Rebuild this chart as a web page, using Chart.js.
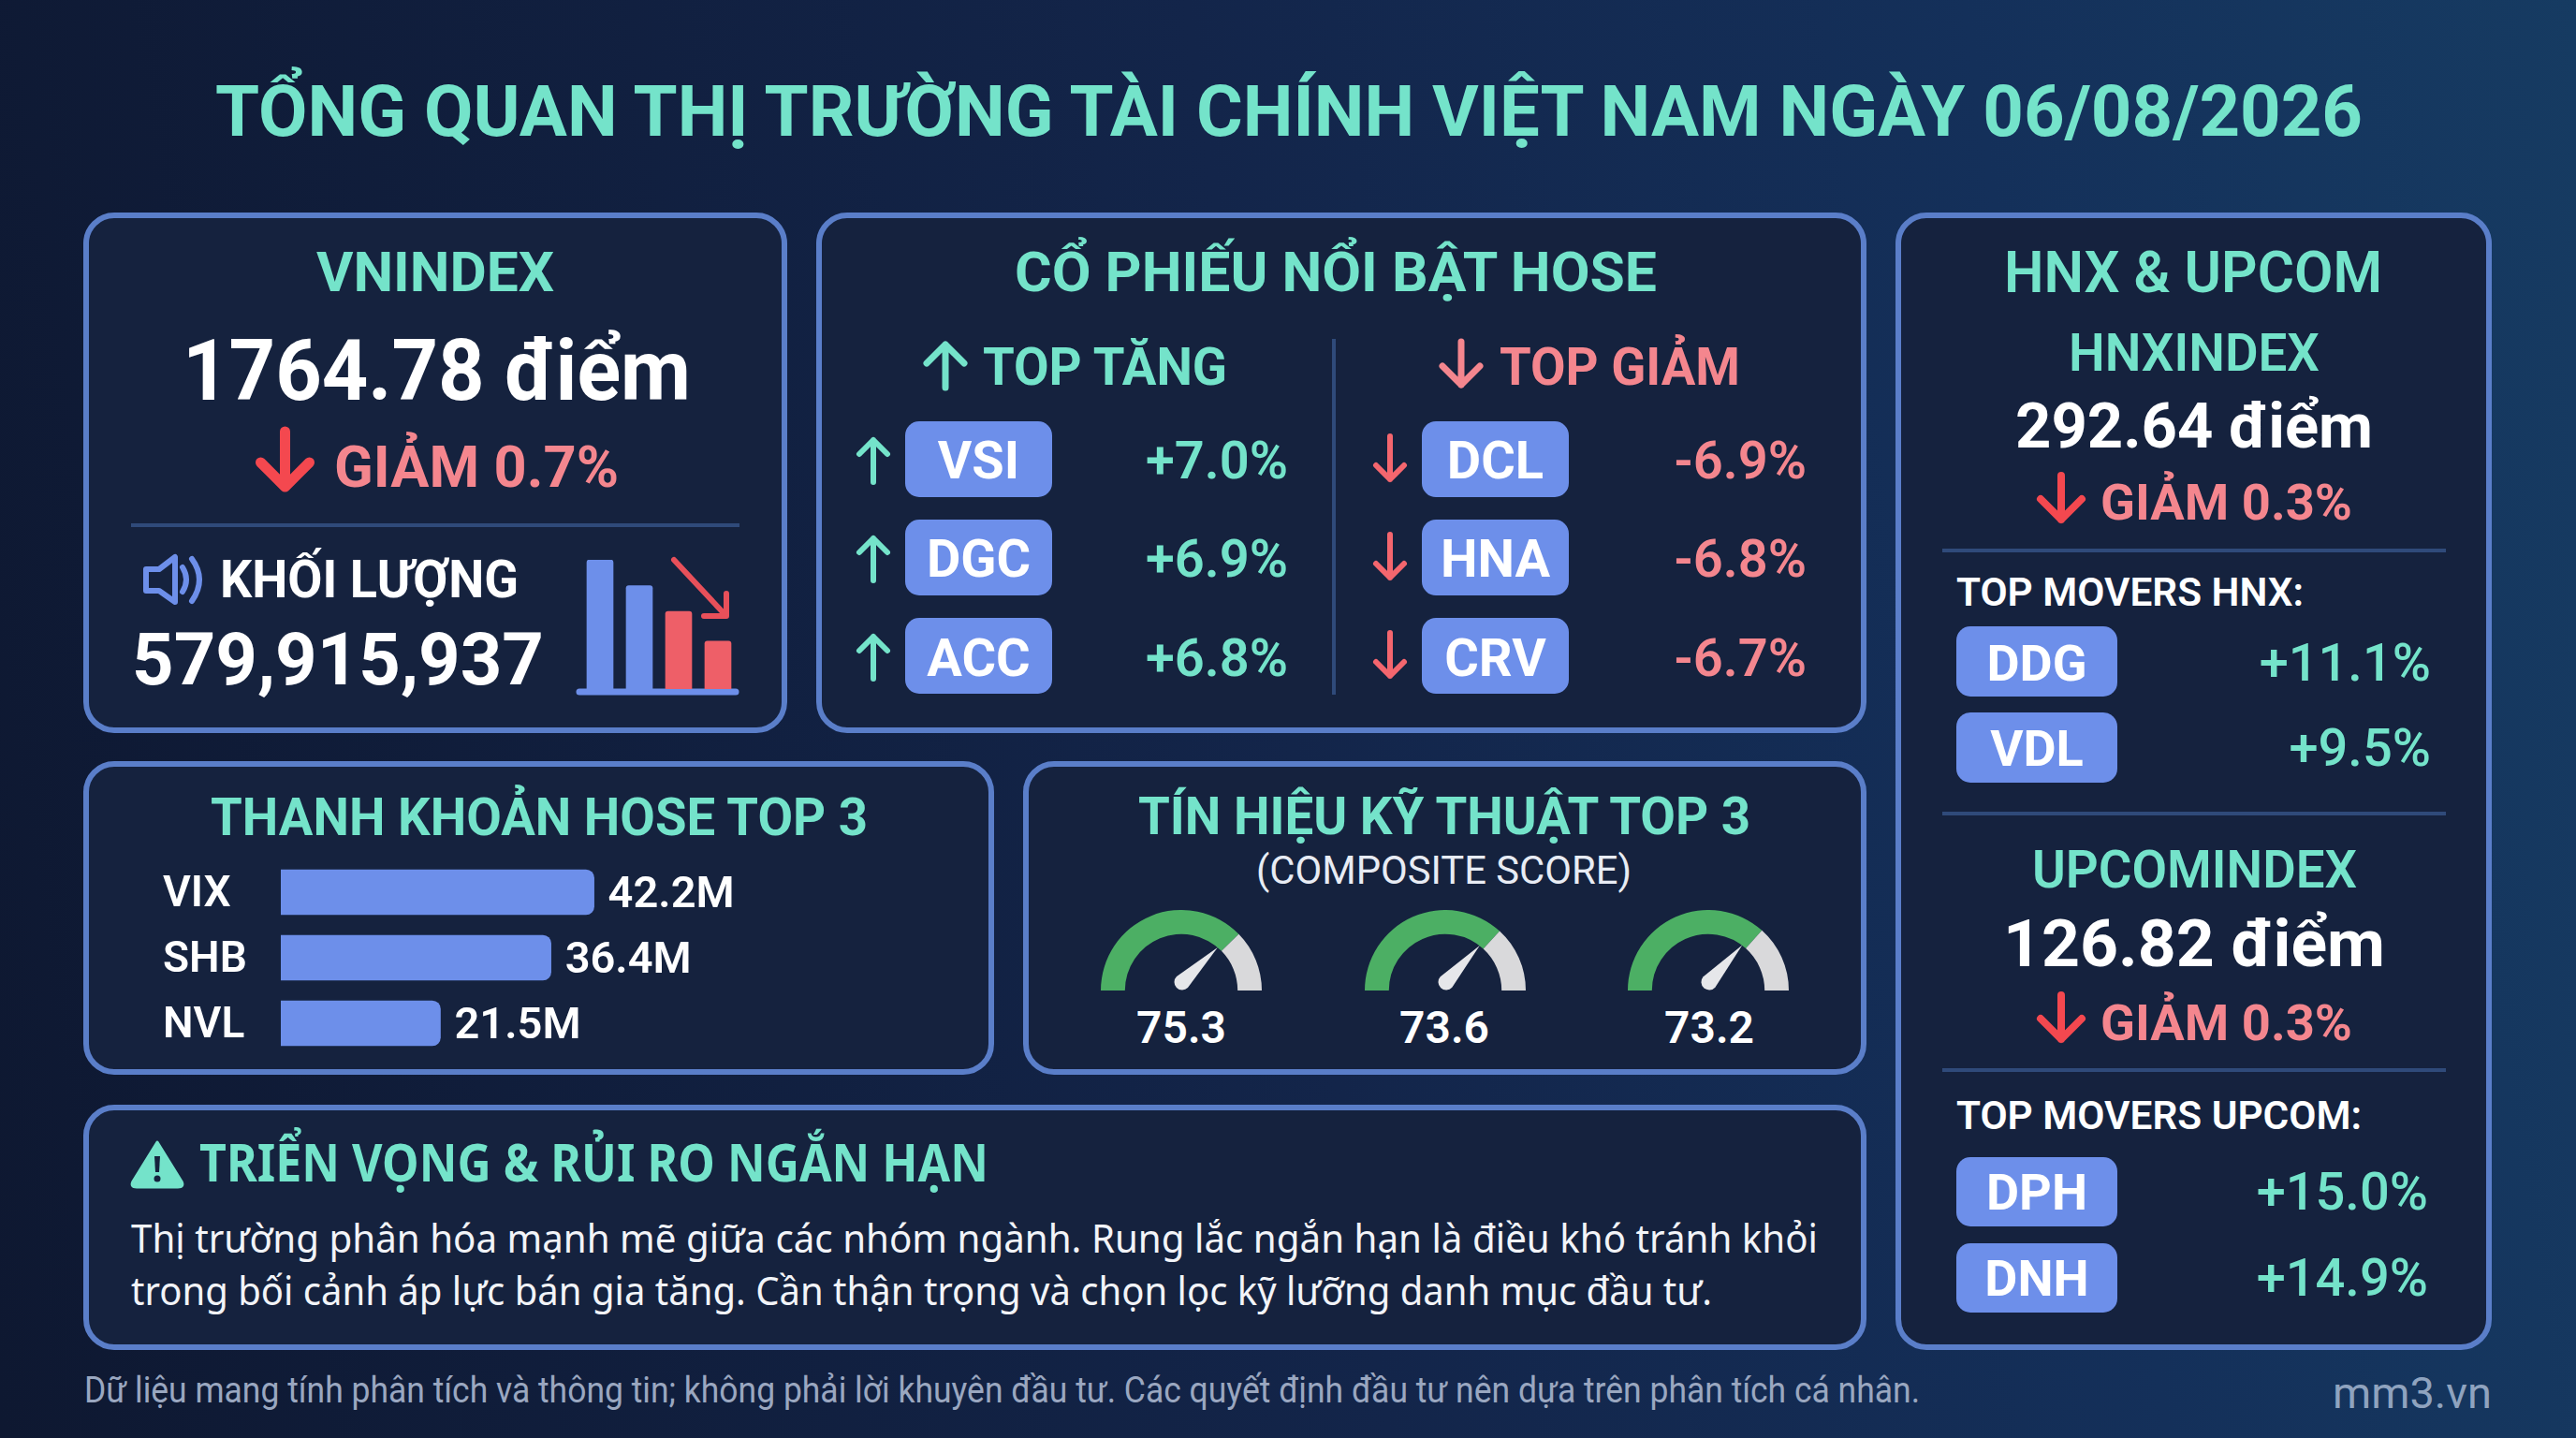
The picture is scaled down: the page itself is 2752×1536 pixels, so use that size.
<!DOCTYPE html>
<html lang="vi">
<head>
<meta charset="utf-8">
<title>Tổng quan thị trường</title>
<script src="https://cdn.jsdelivr.net/npm/chart.js@4/dist/chart.umd.min.js"></script>
<style>
  html, body { margin: 0; padding: 0; }
  body {
    width: 2752px; height: 1536px; overflow: hidden; position: relative;
    background: linear-gradient(82deg, #0e1831 0%, #13254a 50%, #14305a 78%, #163b62 100%);
  }
  svg { position: absolute; left: 0; top: 0; }
  canvas { position: absolute; }
</style>
</head>
<body>
<svg id="board" width="2752" height="1536" xmlns="http://www.w3.org/2000/svg"></svg>
<canvas id="volumeIcon" width="168" height="138" style="left:620px;top:598px"></canvas>
<canvas id="liquidity" width="800" height="210" style="left:174px;top:918px"></canvas>
<canvas id="gauge0" width="172" height="86" style="left:1176px;top:972px"></canvas>
<canvas id="gauge1" width="172" height="86" style="left:1458px;top:972px"></canvas>
<canvas id="gauge2" width="172" height="86" style="left:1739px;top:972px"></canvas>

<script>
// values
const liquidityTickers = ["VIX", "SHB", "NVL"];
const liquidityValues = [42.2, 36.4, 21.5];
const gaugeScores = [75.3, 73.6, 73.2];
const volumeBars = [100, 80, 60, 37];

const hoseGainers = ["VSI", "DGC", "ACC"];
const hoseGainerPct = ["+7.0%", "+6.9%", "+6.8%"];
const hoseLosers = ["DCL", "HNA", "CRV"];
const hoseLoserPct = ["-6.9%", "-6.8%", "-6.7%"];
const hnxMovers = ["DDG", "VDL"];
const hnxMoverPct = ["+11.1%", "+9.5%"];
const upcomMovers = ["DPH", "DNH"];
const upcomMoverPct = ["+15.0%", "+14.9%"];

const TEAL = "#74e3ca", SOFT_RED = "#f4868e", RED = "#f4484f", BLUE = "#6d8fea", LINE = "#2f4a7a";
const BORDER = "#5a7ec9", PANEL = "#15223e", FONT = "Roboto, sans-serif";

Chart.defaults.animation = false;
Chart.defaults.responsive = false;
Chart.defaults.font.family = FONT;

const board = document.getElementById("board");

function add(tag, attrs, text) {
  const el = document.createElementNS("http://www.w3.org/2000/svg", tag);
  for (const k in attrs) el.setAttribute(k, attrs[k]);
  if (text) el.textContent = text;
  board.appendChild(el);
  return el;
}

// w = width measured on the picture, squeezes the glyphs to fit it
function label(str, x, y, size, weight, fill, opts = {}) {
  const attrs = { x, y, fill, "font-size": size, "font-weight": weight, "font-family": opts.family || FONT, "text-anchor": opts.anchor || "start" };
  if (opts.w) { attrs.textLength = opts.w; attrs.lengthAdjust = "spacingAndGlyphs"; }
  add("text", attrs, str);
}

function panel(x0, y0, x1, y1) {
  add("rect", { x: x0 + 3, y: y0 + 3, width: x1 - x0 - 6, height: y1 - y0 - 6, rx: 30, fill: PANEL, stroke: BORDER, "stroke-width": 6 });
}

function rule(x0, y0, x1, y1) {
  add("line", { x1: x0, y1: y0, x2: x1, y2: y1, stroke: LINE, "stroke-width": 4 });
}

function arrow(x, y0, y1, head, color, sw) {
  const dir = y1 > y0 ? -1 : 1;
  add("path", {
    d: `M${x} ${y0}L${x} ${y1}M${x - head} ${y1 + dir * head}L${x} ${y1}L${x + head} ${y1 + dir * head}`,
    fill: "none", stroke: color, "stroke-width": sw, "stroke-linecap": "round", "stroke-linejoin": "round"
  });
}

function badge(x, y, w, h, str, size, base) {
  add("rect", { x, y, width: w, height: h, rx: 15, fill: BLUE });
  label(str, x + w / 2, base, size, 700, "#ffffff", { anchor: "middle" });
}

// header
label("TỔNG QUAN THỊ TRƯỜNG TÀI CHÍNH VIỆT NAM NGÀY 06/08/2026", 230, 145, 76, 700, TEAL, { w: 2294 });

panel(89, 227, 841, 783);
panel(872, 227, 1994, 783);
panel(2025, 227, 2662, 1442);
panel(89, 813, 1062, 1148);
panel(1093, 813, 1994, 1148);
panel(89, 1180, 1994, 1442);

// VNINDEX
label("VNINDEX", 338, 311, 59, 700, TEAL, { w: 254 });
label("1764.78 điểm", 195, 427, 90, 700, "#ffffff", { w: 543 });
arrow(304.5, 461, 520, 26, RED, 11);
label("GIẢM 0.7%", 357, 520, 62, 700, SOFT_RED, { w: 304 });
rule(140, 561, 790, 561);
add("path", { d: "M156 608H170L187 595V643L170 631H156Z", fill: "none", stroke: BLUE, "stroke-width": 6, "stroke-linejoin": "round" });
add("path", { d: "M195 606Q203 619 195 632M205 597Q221 619 205 642", fill: "none", stroke: BLUE, "stroke-width": 6, "stroke-linecap": "round" });
label("KHỐI LƯỢNG", 235, 638, 56, 700, "#ffffff", { w: 319 });
label("579,915,937", 141, 731, 78, 700, "#ffffff", { w: 440 });
add("line", { x1: 619, y1: 739, x2: 786, y2: 739, stroke: BLUE, "stroke-width": 7, "stroke-linecap": "round" });
add("path", { d: "M720 598L775 657M776 634V658H752", fill: "none", stroke: "#e8505a", "stroke-width": 6, "stroke-linecap": "round", "stroke-linejoin": "round" });

// HOSE top movers
label("CỔ PHIẾU NỔI BẬT HOSE", 1084, 311, 59, 700, TEAL, { w: 686 });
arrow(1010, 414, 368, 20, TEAL, 7);
label("TOP TĂNG", 1050, 411, 56, 700, TEAL, { w: 261 });
rule(1425, 362, 1425, 742);
arrow(1561, 365, 411, 20, SOFT_RED, 7);
label("TOP GIẢM", 1602, 411, 56, 700, SOFT_RED, { w: 257 });

const hoseRowTop = [450, 555, 660];
const hoseRowBase = [511, 616, 722];
hoseGainers.forEach((name, i) => {
  const y = hoseRowTop[i];
  arrow(933, y + 65, y + 20, 15, TEAL, 6);
  badge(967, y, 157, 81, name, 56, hoseRowBase[i]);
  label(hoseGainerPct[i], 1376, hoseRowBase[i], 56, 600, TEAL, { anchor: "end" });
});
hoseLosers.forEach((name, i) => {
  const y = hoseRowTop[i];
  arrow(1485, y + 16, y + 62, 15, "#f4666e", 6);
  badge(1519, y, 157, 81, name, 56, hoseRowBase[i]);
  label(hoseLoserPct[i], 1930, hoseRowBase[i], 56, 600, SOFT_RED, { anchor: "end" });
});

// HNX & UPCOM
label("HNX & UPCOM", 2141, 312, 62, 600, TEAL, { w: 404 });
label("HNXINDEX", 2210, 396, 55, 600, TEAL, { w: 268 });
label("292.64 điểm", 2153, 478, 67, 700, "#ffffff", { w: 382 });
arrow(2202, 508, 555, 22, RED, 8);
label("GIẢM 0.3%", 2244, 555, 54, 700, SOFT_RED, { w: 269 });
rule(2075, 588, 2613, 588);
label("TOP MOVERS HNX:", 2090, 647, 42, 600, "#ffffff", { w: 371 });
hnxMovers.forEach((name, i) => {
  const top = [669, 761][i], base = [727, 818][i];
  badge(2090, top, 172, 75, name, 54, base);
  label(hnxMoverPct[i], 2597, base, 56, 500, TEAL, { anchor: "end" });
});
rule(2075, 869, 2613, 869);
label("UPCOMINDEX", 2171, 948, 55, 600, TEAL, { w: 347 });
label("126.82 điểm", 2140, 1032, 70, 700, "#ffffff", { w: 408 });
arrow(2202, 1063, 1110, 22, RED, 8);
label("GIẢM 0.3%", 2244, 1111, 54, 700, SOFT_RED, { w: 269 });
rule(2075, 1143, 2613, 1143);
label("TOP MOVERS UPCOM:", 2090, 1206, 42, 600, "#ffffff", { w: 433 });
upcomMovers.forEach((name, i) => {
  const top = [1236, 1328][i], base = [1292, 1384][i];
  badge(2090, top, 172, 74, name, 54, base);
  label(upcomMoverPct[i], 2594, base, 56, 500, TEAL, { anchor: "end" });
});

// liquidity + gauges headings
label("THANH KHOẢN HOSE TOP 3", 225, 892, 56, 700, TEAL, { w: 702 });
label("TÍN HIỆU KỸ THUẬT TOP 3", 1216, 891, 56, 700, TEAL, { w: 654 });
label("(COMPOSITE SCORE)", 1342, 944, 42, 400, "#e8ecf4", { w: 401 });
[1262, 1543, 1826].forEach((cx, i) => {
  label(gaugeScores[i].toFixed(1), cx, 1114, 48, 600, "#ffffff", { anchor: "middle" });
});

// outlook
add("path", { d: "M168 1220L194 1262Q197 1268 190 1268H146Q139 1268 142 1262Z", fill: TEAL, stroke: TEAL, "stroke-width": 3, "stroke-linejoin": "round" });
add("path", { d: "M165 1235H171L170 1252H166Z", fill: PANEL });
add("circle", { cx: 168, cy: 1259, r: 3.5, fill: PANEL });
label("TRIỂN VỌNG & RỦI RO NGẮN HẠN", 213, 1262, 55, 700, TEAL, { w: 843, family: "'Noto Sans', sans-serif" });
label("Thị trường phân hóa mạnh mẽ giữa các nhóm ngành. Rung lắc ngắn hạn là điều khó tránh khỏi", 140, 1338, 42, 400, "#f2f4f8", { w: 1802, family: "'Noto Sans', sans-serif" });
label("trong bối cảnh áp lực bán gia tăng. Cần thận trọng và chọn lọc kỹ lưỡng danh mục đầu tư.", 140, 1394, 42, 400, "#f2f4f8", { w: 1689, family: "'Noto Sans', sans-serif" });

// footer
label("Dữ liệu mang tính phân tích và thông tin; không phải lời khuyên đầu tư. Các quyết định đầu tư nên dựa trên phân tích cá nhân.", 90, 1498, 39, 400, "#9aa7c0", { w: 1961 });
label("mm3.vn", 2492, 1504, 46, 400, "#8fa3bf", { w: 170 });

// volume icon
new Chart(document.getElementById("volumeIcon"), {
  type: "bar",
  data: { labels: volumeBars.map((_, i) => i), datasets: [{
    data: volumeBars,
    backgroundColor: [BLUE, BLUE, "#ee5f68", "#ee5f68"],
    borderRadius: { topLeft: 3, topRight: 3 }, barThickness: 28
  }] },
  options: {
    plugins: { legend: { display: false }, tooltip: { enabled: false } },
    scales: {
      x: { display: false },
      y: { display: false, min: 0, max: 100 }
    }
  }
});

// liquidity bars, tickers and values sit a little under the bar centre like the picture
const barTextLabels = {
  id: "barTextLabels",
  afterDatasetsDraw(chart) {
    const ctx = chart.ctx;
    ctx.save();
    ctx.fillStyle = "#ffffff";
    ctx.textBaseline = "middle";
    chart.getDatasetMeta(0).data.forEach((bar, i) => {
      ctx.font = `600 46px ${FONT}`;
      ctx.fillText(chart.scales.y.getLabelForValue(i), 0, chart.scales.y.getPixelForTick(i) + 3);
      ctx.font = `600 47px ${FONT}`;
      ctx.fillText(liquidityValues[i].toFixed(1) + "M", bar.x + 15, bar.y + 4);
    });
    ctx.restore();
  }
};

new Chart(document.getElementById("liquidity"), {
  type: "bar",
  data: { labels: liquidityTickers, datasets: [{ data: liquidityValues, backgroundColor: BLUE, borderRadius: 9, barThickness: 48 }] },
  options: {
    indexAxis: "y",
    plugins: { legend: { display: false }, tooltip: { enabled: false } },
    scales: {
      x: { display: false, min: 0, max: 85 },
      y: {
        grid: { display: false }, border: { display: false },
        afterFit(axis) { axis.width = 126; axis.paddingTop = 0; axis.paddingBottom = 0; },
        ticks: { display: false }
      }
    }
  },
  plugins: [barTextLabels]
});

// gauges, needle follows the end of the green arc
const gaugeNeedle = {
  id: "gaugeNeedle",
  afterDatasetsDraw(chart) {
    const arc = chart.getDatasetMeta(0).data[0];
    const a = arc.endAngle, px = arc.x + 1, py = arc.y - 9, r = 8.5, len = 53;
    const ctx = chart.ctx;
    ctx.save();
    ctx.translate(px, py);
    ctx.rotate(a);
    ctx.fillStyle = "#e6e7ea";
    ctx.beginPath();
    ctx.moveTo(len, 0);
    ctx.lineTo(0, -r);
    ctx.arc(0, 0, r, -Math.PI / 2, Math.PI / 2, true);
    ctx.closePath();
    ctx.fill();
    ctx.restore();
  }
};

gaugeScores.forEach((score, i) => {
  new Chart(document.getElementById("gauge" + i), {
    type: "doughnut",
    data: { datasets: [{ data: [score, 100 - score], backgroundColor: ["#4caf64", "#d9d9db"], borderWidth: 0 }] },
    options: {
      rotation: -90, circumference: 180, cutout: "70%",
      plugins: { legend: { display: false }, tooltip: { enabled: false } }
    },
    plugins: [gaugeNeedle]
  });
});
</script>
</body>
</html>
